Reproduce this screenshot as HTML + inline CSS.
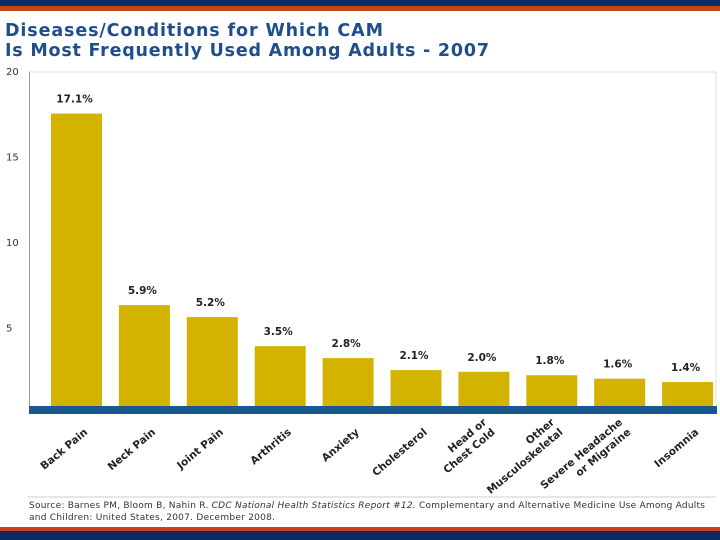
<!DOCTYPE html>
<html><head><meta charset="utf-8"><style>
html,body{margin:0;padding:0;background:#fff;width:720px;height:540px;overflow:hidden;font-family:"DejaVu Sans","Liberation Sans",sans-serif}
</style></head><body>
<svg width="720" height="540" xmlns="http://www.w3.org/2000/svg">
<rect x="0" y="0" width="720" height="6" fill="#0d2a63"/>
<rect x="0" y="6" width="720" height="5" fill="#c9441c"/>
<rect x="0" y="527" width="720" height="4" fill="#c9441c"/>
<rect x="0" y="531" width="720" height="9" fill="#0d2a63"/>
<text x="5" y="36" font-size="17.5" font-weight="bold" fill="#1f4e8c" textLength="378">Diseases/Conditions for Which CAM</text>
<text x="5" y="56" font-size="17.5" font-weight="bold" fill="#1f4e8c" textLength="484">Is Most Frequently Used Among Adults - 2007</text>
<line x1="29" y1="72" x2="716" y2="72" stroke="#ddd"/>
<line x1="716" y1="72" x2="716" y2="410" stroke="#ddd"/>
<line x1="29.5" y1="72" x2="29.5" y2="410" stroke="#999"/>
<g id="ticks"></g>
<g id="bars"></g>
<rect x="29" y="406" width="688" height="8" fill="#1c5592"/>
<g id="xl"></g>
<line x1="28" y1="497" x2="716" y2="497" stroke="#ccc"/>
<text x="29" y="508" font-size="9" fill="#333" textLength="676">Source: Barnes PM, Bloom B, Nahin R. <tspan font-style="italic">CDC National Health Statistics Report #12.</tspan> Complementary and Alternative Medicine Use Among Adults</text>
<text x="29" y="520" font-size="9" fill="#333" textLength="246">and Children: United States, 2007. December 2008.</text>
</svg>
<script>
const categories=["Back Pain","Neck Pain","Joint Pain","Arthritis","Anxiety","Cholesterol","Head or|Chest Cold","Other|Musculoskeletal","Severe Headache|or Migraine","Insomnia"];
const values=[17.1,5.9,5.2,3.5,2.8,2.1,2.0,1.8,1.6,1.4];
const valueLabels=["17.1%","5.9%","5.2%","3.5%","2.8%","2.1%","2.0%","1.8%","1.6%","1.4%"];
const tickValues=[5,10,15,20];
const NS="http://www.w3.org/2000/svg";
const y=v=>406-v*17.1;
const x=i=>51+i*67.9;
const bw=51;
function mk(t,a,p){const e=document.createElementNS(NS,t);for(const k in a)e.setAttribute(k,a[k]);p.appendChild(e);return e;}
const tg=document.getElementById('ticks');
tickValues.forEach(v=>{const t=mk('text',{x:6,y:y(v)+11,'font-size':10,fill:'#333'},tg);


t.textContent=v;});
const bg=document.getElementById('bars');const xg=document.getElementById('xl');
values.forEach((v,i)=>{
 const r=mk('rect',{x:x(i),y:y(v),width:bw,height:406-y(v),fill:'#d4b200'},bg);
 
 
 const t=mk('text',{x:x(i)+bw/2-2,y:y(v)-11,'font-size':10.5,'font-weight':'bold','text-anchor':'middle',fill:'#222'},bg);
 
 
 t.textContent=valueLabels[i];
 const lines=categories[i].split('|');
 const g=mk('g',{transform:`translate(${x(i)+bw/2+4},${424}) rotate(-40)`},xg);
 
 
 lines.forEach((l,j)=>{const tt=mk('text',{x:0,y:(j-(lines.length-1))*13+12,'font-size':10.5,'font-weight':'bold','text-anchor':'end',fill:'#222'},g);tt.textContent=l;});
});
</script>
</body></html>
